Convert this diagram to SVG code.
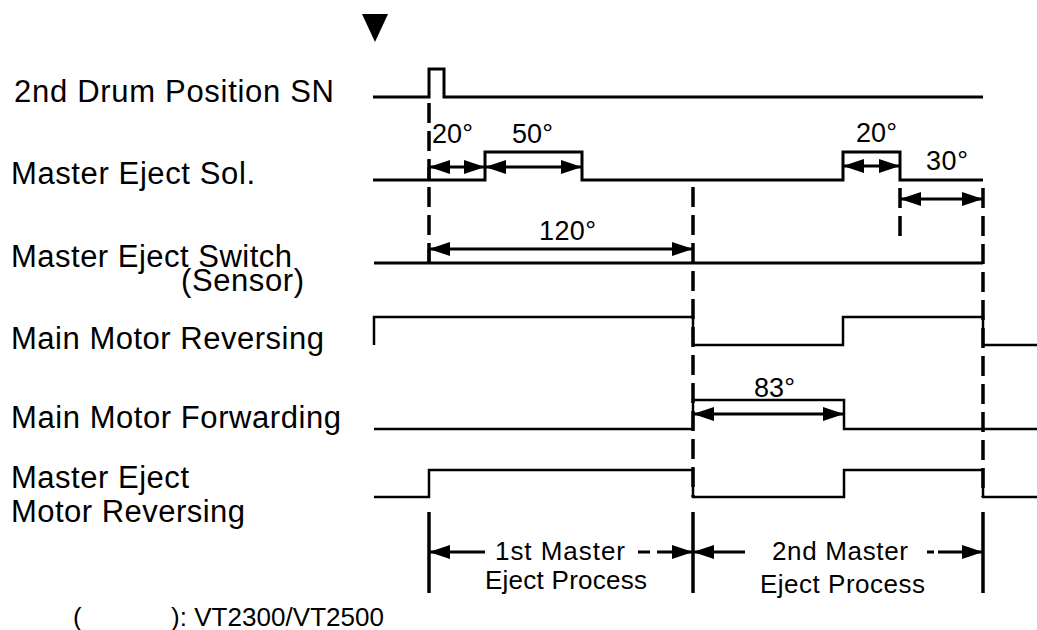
<svg xmlns="http://www.w3.org/2000/svg" width="1037" height="630" viewBox="0 0 1037 630">
<style>
.lbl{font-family:"Liberation Sans",Arial,sans-serif;font-size:31px;fill:#000}
.deg{font-family:"Liberation Sans",Arial,sans-serif;font-size:27px;fill:#000}
.proc{font-family:"Liberation Sans",Arial,sans-serif;font-size:26px;fill:#000}
.sig{fill:none;stroke:#000;stroke-width:3;stroke-linejoin:miter}
.sig2{fill:none;stroke:#000;stroke-width:2.5}
.dash{fill:none;stroke:#000;stroke-width:3.5;stroke-dasharray:20 8}
.solid{fill:none;stroke:#000;stroke-width:3.5}
.dim{fill:none;stroke:#000;stroke-width:3}
</style>
<defs>
<marker id="ah" markerUnits="userSpaceOnUse" markerWidth="21" markerHeight="14" refX="21" refY="7" orient="auto-start-reverse">
<path d="M0,0 L21,7 L0,14 z" fill="#000"/>
</marker>
</defs>
<polygon id="trigger" points="362,14 388,14 375,42" fill="#000"/>
<g id="labels">
<text class="lbl" x="14" y="102" textLength="320">2nd Drum Position SN</text>
<text class="lbl" x="11" y="184" textLength="244">Master Eject Sol.</text>
<text class="lbl" x="11" y="267" textLength="281">Master Eject Switch</text>
<text class="lbl" x="181" y="291" textLength="123">(Sensor)</text>
<text class="lbl" x="11" y="349" textLength="313">Main Motor Reversing</text>
<text class="lbl" x="11" y="428" textLength="330">Main Motor Forwarding</text>
<text class="lbl" x="11" y="488" textLength="178">Master Eject</text>
<text class="lbl" x="11" y="522" textLength="234">Motor Reversing</text>
<text class="proc" x="73" y="626">(</text>
<text class="proc" x="171" y="626" textLength="213">): VT2300/VT2500</text>
</g>
<g id="sig-drum"><path class="sig" d="M373,97 H429 V69 H444 V97 H983"/></g>
<g id="sig-sol"><path class="sig" d="M373,180 H485 V152 H582 V180 H843 V152 H900 V180 H983"/></g>
<g id="sig-switch"><path class="sig" d="M374,263 H983"/></g>
<g id="sig-mmrev"><path class="sig2" d="M374,345 V317 H693 V345 H843 V317 H983 V345 H1037"/></g>
<g id="sig-mmfwd"><path class="sig2" d="M374,429 H693 V400 H844 V429 H1037"/></g>
<g id="sig-mer"><path class="sig2" d="M374,497 H429 V470 H693 V497 H844 V470 H983 V497 H1037"/></g>
<g id="connectors">
<line class="dash" x1="429" y1="103" x2="429" y2="263"/>
<line class="dash" x1="693" y1="187" x2="693" y2="497"/>
<line class="dash" x1="983" y1="188" x2="983" y2="497"/>
<line class="dash" x1="900" y1="188" x2="900" y2="242"/>
<line class="dim" x1="429" y1="167" x2="429" y2="180"/>
<line class="dim" x1="429" y1="249" x2="429" y2="263"/>
<line class="dim" x1="429" y1="167" x2="485" y2="167" marker-start="url(#ah)" marker-end="url(#ah)"/>
<line class="dim" x1="485" y1="167" x2="582" y2="167" marker-start="url(#ah)" marker-end="url(#ah)"/>
<line class="dim" x1="843" y1="166" x2="900" y2="166" marker-start="url(#ah)" marker-end="url(#ah)"/>
<line class="dim" x1="900" y1="199" x2="983" y2="199" marker-start="url(#ah)" marker-end="url(#ah)"/>
<line class="dim" x1="429" y1="249" x2="693" y2="249" marker-start="url(#ah)" marker-end="url(#ah)"/>
<line class="dim" x1="693" y1="414" x2="844" y2="414" marker-start="url(#ah)" marker-end="url(#ah)"/>
<line class="solid" x1="429" y1="512" x2="429" y2="593"/>
<line class="solid" x1="693" y1="512" x2="693" y2="593"/>
<line class="solid" x1="983" y1="512" x2="983" y2="593"/>
<line class="dim" x1="429" y1="552" x2="485" y2="552" marker-start="url(#ah)"/>
<line class="dim" x1="638" y1="552" x2="650" y2="552"/>
<line class="dim" x1="657" y1="552" x2="693" y2="552" marker-end="url(#ah)"/>
<line class="dim" x1="693" y1="552" x2="745" y2="552" marker-start="url(#ah)"/>
<line class="dim" x1="927" y1="552" x2="934" y2="552"/>
<line class="dim" x1="938" y1="552" x2="983" y2="552" marker-end="url(#ah)"/>
</g>
<g id="dim-labels">
<text class="deg" x="432" y="143" textLength="41">20°</text>
<text class="deg" x="512" y="143" textLength="41">50°</text>
<text class="deg" x="856" y="142" textLength="41">20°</text>
<text class="deg" x="926" y="170" textLength="42">30°</text>
<text class="deg" x="539" y="240" textLength="57">120°</text>
<text class="deg" x="754" y="397" textLength="41">83°</text>
<text class="proc" x="495" y="560" textLength="130">1st Master</text>
<text class="proc" x="485" y="589" textLength="162">Eject Process</text>
<text class="proc" x="772" y="560" textLength="136">2nd Master</text>
<text class="proc" x="760" y="593" textLength="165">Eject Process</text>
</g>
</svg>
